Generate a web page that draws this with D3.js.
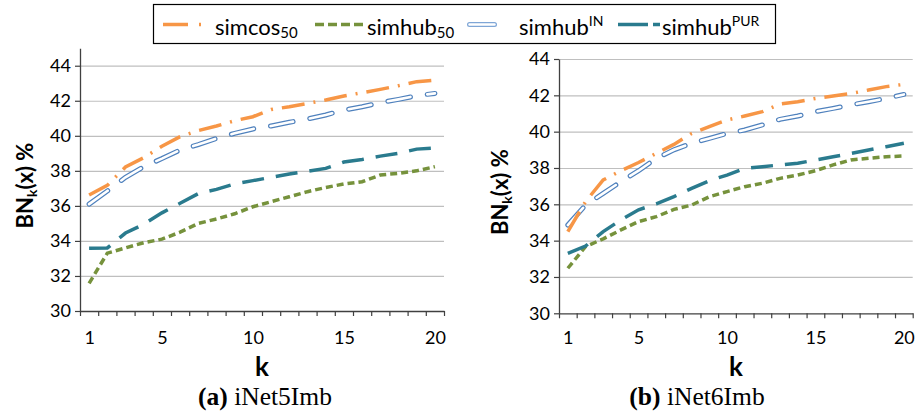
<!DOCTYPE html>
<html>
<head>
<meta charset="utf-8">
<script src="https://cdn.jsdelivr.net/npm/d3@7"></script>
<style>
  body { margin: 0; background: #fff; }
  svg { display: block; }
  text { font-family: Lato, "Open Sans", sans-serif; fill: #000; }
</style>
</head>
<body>
<svg id="chart" width="919" height="415"></svg>
<script>
// k = number of neighbours (category axis)
const ks = d3.range(1, 21);
const kTickLabels = [1, 5, 10, 15, 20];
const yTickValues = [30, 32, 34, 36, 38, 40, 42, 44];

// iNet5Imb
const net5Simcos50 = [36.62, 37.17, 38.22, 38.75, 39.4, 39.95, 40.3, 40.56, 40.86, 41.09, 41.5, 41.66, 41.85, 42.04, 42.27, 42.46, 42.65, 42.86, 43.09, 43.18];
const net5Simhub50 = [31.58, 33.3, 33.6, 33.9, 34.1, 34.5, 35.0, 35.25, 35.55, 35.95, 36.24, 36.52, 36.81, 37.05, 37.25, 37.38, 37.76, 37.86, 38.0, 38.24];
const net5SimhubIN = [36.1, 36.85, 37.63, 38.24, 38.7, 39.19, 39.5, 39.85, 40.14, 40.39, 40.56, 40.77, 40.96, 41.19, 41.47, 41.66, 41.89, 42.08, 42.29, 42.42];
const net5SimhubPUR = [33.58, 33.6, 34.45, 34.95, 35.6, 36.15, 36.7, 36.94, 37.25, 37.44, 37.63, 37.82, 37.97, 38.14, 38.5, 38.65, 38.84, 39.0, 39.24, 39.3];

// iNet6Imb
const net6Simcos50 = [34.5, 36.15, 37.34, 37.85, 38.3, 38.8, 39.3, 39.9, 40.28, 40.64, 40.86, 41.1, 41.52, 41.65, 41.83, 41.96, 42.1, 42.29, 42.48, 42.6];
const net6Simhub50 = [32.48, 33.67, 34.1, 34.59, 35.05, 35.32, 35.72, 35.96, 36.42, 36.7, 36.97, 37.16, 37.43, 37.61, 37.85, 38.17, 38.44, 38.53, 38.62, 38.66];
const net6SimhubIN = [34.86, 35.96, 36.6, 37.25, 37.85, 38.53, 39.0, 39.36, 39.63, 39.9, 40.09, 40.37, 40.68, 40.86, 41.1, 41.28, 41.47, 41.65, 41.83, 42.05];
const net6SimhubPUR = [33.3, 33.7, 34.5, 35.14, 35.7, 36.02, 36.42, 36.88, 37.3, 37.61, 37.98, 38.07, 38.17, 38.26, 38.44, 38.62, 38.8, 38.99, 39.17, 39.36];

const panels = [
  { caption: "iNet5Imb", tag: "(a)", left: 80, right: 444, top: 48.2, bottom: 311, yMax: 45,
    titleX: 25, captionX: 265,
    series: { simcos50: net5Simcos50, simhub50: net5Simhub50, simhubIN: net5SimhubIN, simhubPUR: net5SimhubPUR } },
  { caption: "iNet6Imb", tag: "(b)", left: 559, right: 912.7, top: 59, bottom: 313.3, yMax: 44,
    titleX: 500, captionX: 697,
    series: { simcos50: net6Simcos50, simhub50: net6Simhub50, simhubIN: net6SimhubIN, simhubPUR: net6SimhubPUR } }
];

const colors = { simcos50: "#F79646", simhub50: "#76923C", simhubIN: "#4F81BD", simhubPUR: "#2A7B8E" };

const svg = d3.select("#chart");

panels.forEach(p => {
  const g = svg.append("g");
  const x = d3.scaleLinear().domain([0.5, 20.5]).range([p.left, p.right]);
  const y = d3.scaleLinear().domain([30, p.yMax]).range([p.bottom, p.top]);

  // horizontal gridlines
  g.append("g")
    .attr("transform", `translate(${p.left},0)`)
    .call(d3.axisLeft(y).tickValues(yTickValues.filter(v => v > 30)).tickSize(-(p.right - p.left)).tickFormat(""))
    .call(a => a.select(".domain").remove())
    .call(a => a.selectAll("line").attr("stroke", "#BFBFBF").attr("stroke-width", 1.2));

  // y axis
  g.append("g")
    .attr("transform", `translate(${p.left},0)`)
    .call(d3.axisLeft(y).tickValues(yTickValues).tickSize(5).tickPadding(4).tickSizeOuter(0))
    .call(a => a.select(".domain").attr("stroke", "#404040").attr("stroke-width", 1.3))
    .call(a => a.selectAll(".tick line").attr("stroke", "#404040").attr("stroke-width", 1.2))
    .call(a => a.selectAll("text").attr("font-size", 18).attr("font-family", "Lato, 'Open Sans', sans-serif").attr("fill", "#000"));

  // x axis: tick marks between categories
  g.append("g")
    .attr("transform", `translate(0,${p.bottom})`)
    .call(d3.axisBottom(x).tickValues(d3.range(0.5, 21, 1)).tickSize(5).tickFormat("").tickSizeOuter(0))
    .call(a => a.select(".domain").attr("stroke", "#404040").attr("stroke-width", 1.3))
    .call(a => a.selectAll(".tick line").attr("stroke", "#404040").attr("stroke-width", 1.2));

  // x axis labels at selected categories
  g.append("g")
    .attr("transform", `translate(0,${p.bottom})`)
    .call(d3.axisBottom(x).tickValues(kTickLabels).tickSize(0).tickPadding(344 - 13 - p.bottom))
    .call(a => a.select(".domain").remove())
    .call(a => a.selectAll("text").attr("font-size", 18).attr("font-family", "Lato, 'Open Sans', sans-serif").attr("fill", "#000"));

  // axis titles
  const yt = g.append("text")
    .attr("transform", `translate(${p.titleX + 8},${(p.top + p.bottom) / 2 + 6}) rotate(-90)`)
    .attr("text-anchor", "middle")
    .attr("font-size", 22).attr("font-weight", "bold");
  yt.append("tspan").text("BN");
  yt.append("tspan").attr("font-size", 14).attr("dy", 4).text("k");
  yt.append("tspan").attr("dy", -4).text("(x) %");

  g.append("text")
    .attr("x", (p.left + p.right) / 2).attr("y", 376)
    .attr("text-anchor", "middle")
    .attr("font-size", 26).attr("font-weight", "bold")
    .text("k");

  // caption
  const cap = g.append("text")
    .attr("x", p.captionX).attr("y", 405)
    .attr("text-anchor", "middle")
    .attr("font-size", 25.5)
    .style("font-family", "'Liberation Serif', 'DejaVu Serif', serif");
  cap.append("tspan").attr("font-weight", "bold").text(p.tag);
  cap.append("tspan").text(" " + p.caption);

  // series lines
  const line = d3.line().x((d, i) => x(ks[i])).y(d => y(d));
  const plot = g.append("g").attr("fill", "none");

  plot.append("path").datum(p.series.simhub50).attr("d", line)
    .attr("stroke", colors.simhub50).attr("stroke-width", 3.5).attr("stroke-dasharray", "7,4");

  plot.append("path").datum(p.series.simhubPUR).attr("d", line)
    .attr("stroke", colors.simhubPUR).attr("stroke-width", 3.5).attr("stroke-dasharray", "22,12");

  plot.append("path").datum(p.series.simhubIN).attr("d", line)
    .attr("stroke", colors.simhubIN).attr("stroke-width", 5).attr("stroke-linecap", "round")
    .attr("stroke-dasharray", "23,17");
  plot.append("path").datum(p.series.simhubIN).attr("d", line)
    .attr("stroke", "#fff").attr("stroke-width", 2.6).attr("stroke-linecap", "round")
    .attr("stroke-dasharray", "23,17");

  plot.append("path").datum(p.series.simcos50).attr("d", line)
    .attr("stroke", colors.simcos50).attr("stroke-width", 3.5).attr("stroke-dasharray", "23,9,2,9");
});

// legend
const lg = svg.append("g");
lg.append("rect").attr("x", 153.5).attr("y", 4.5).attr("width", 622).attr("height", 39)
  .attr("fill", "#fff").attr("stroke", "#000").attr("stroke-width", 1.2);

const legendItems = [
  { key: "simcos50", base: "simcos", sub: "50", x0: 163, x1: 201, tx: 215 },
  { key: "simhub50", base: "simhub", sub: "50", x0: 315, x1: 363, tx: 367 },
  { key: "simhubIN", base: "simhub", sup: "IN", x0: 469.5, x1: 494.5, tx: 519 },
  { key: "simhubPUR", base: "simhub", sup: "PUR", x0: 618, x1: 660, tx: 662 }
];
const ly = 24.5;
legendItems.forEach(it => {
  if (it.key === "simhubIN") {
    lg.append("line").attr("x1", it.x0).attr("x2", it.x1).attr("y1", ly).attr("y2", ly)
      .attr("stroke", "#7FA6D6").attr("stroke-width", 5).attr("stroke-linecap", "round");
    lg.append("line").attr("x1", it.x0).attr("x2", it.x1).attr("y1", ly).attr("y2", ly)
      .attr("stroke", "#fff").attr("stroke-width", 2.4).attr("stroke-linecap", "round");
  } else {
    const dash = { simcos50: "25,11,2", simhub50: "9,4", simhubPUR: "30,5,7" }[it.key];
    lg.append("line").attr("x1", it.x0).attr("x2", it.x1).attr("y1", ly).attr("y2", ly)
      .attr("stroke", colors[it.key]).attr("stroke-width", 3.5).attr("stroke-dasharray", dash);
  }
  const t = lg.append("text").attr("x", it.tx).attr("y", 35).attr("font-size", 22);
  t.append("tspan").text(it.base);
  if (it.sub) t.append("tspan").attr("font-size", 15).attr("dy", 3).text(it.sub);
  if (it.sup) t.append("tspan").attr("font-size", 14).attr("dy", -9).text(it.sup);
});
</script>
</body>
</html>
